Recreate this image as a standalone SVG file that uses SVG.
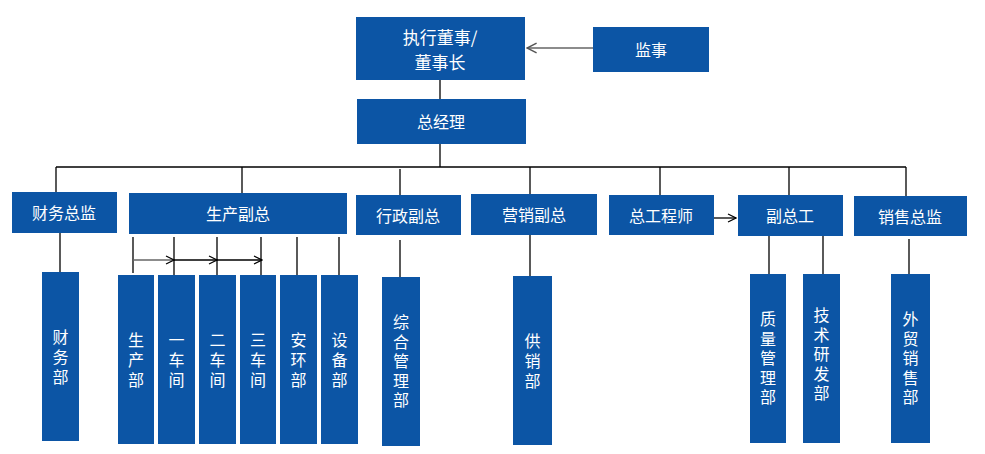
<svg xmlns="http://www.w3.org/2000/svg" width="985" height="454" viewBox="0 0 985 454">
<style>
.b{fill:#0c55a5}
.t{fill:#fff;font-family:"Noto Sans CJK SC","Microsoft YaHei",sans-serif;font-size:16px;text-anchor:middle;dominant-baseline:central}
.v{fill:#fff;font-family:"Noto Sans CJK SC","Microsoft YaHei",sans-serif;font-size:16px;text-anchor:middle;writing-mode:vertical-rl;letter-spacing:4px}
.v5{letter-spacing:3.5px}
.l{stroke:#000;stroke-width:1.3;fill:none}
.g{stroke:#666;stroke-width:1.5;fill:none}
</style>
<defs>
<marker id="ah" viewBox="0 0 10 10" refX="9" refY="5" markerWidth="10" markerHeight="10" markerUnits="userSpaceOnUse" orient="auto">
<path d="M1,1 L9,5 L1,9" fill="none" stroke="#000" stroke-width="1.2"/>
</marker>
<marker id="ahg" viewBox="0 0 10 10" refX="9" refY="5" markerWidth="12" markerHeight="12" markerUnits="userSpaceOnUse" orient="auto">
<path d="M1,1 L9,5 L1,9" fill="none" stroke="#555" stroke-width="1.2"/>
</marker>
</defs>
<rect width="985" height="454" fill="#fff"/>
<g id="connectors">
<line class="g" x1="593" y1="48" x2="527" y2="48" marker-end="url(#ahg)"/>
<line class="l" x1="440" y1="80" x2="440" y2="99"/>
<line class="l" x1="440" y1="144" x2="440" y2="167"/>
<line class="l" x1="56" y1="167" x2="906" y2="167"/>
<line class="l" x1="56" y1="167" x2="56" y2="192"/>
<line class="l" x1="242" y1="167" x2="242" y2="193"/>
<line class="l" x1="400" y1="169" x2="400" y2="195"/>
<line class="l" x1="530" y1="167" x2="530" y2="194"/>
<line class="l" x1="660" y1="167" x2="660" y2="195"/>
<line class="l" x1="789" y1="167" x2="789" y2="195"/>
<line class="l" x1="906" y1="167" x2="906" y2="196"/>
<line class="l" x1="714" y1="218" x2="736" y2="218" marker-end="url(#ah)"/>
<line class="l" x1="60" y1="233" x2="60" y2="272"/>
<line class="l" x1="133" y1="237" x2="133" y2="273"/>
<line class="l" x1="174" y1="237" x2="174" y2="275"/>
<line class="l" x1="217" y1="237" x2="217" y2="275"/>
<line class="l" x1="261" y1="237" x2="261" y2="275"/>
<line class="l" x1="297" y1="237" x2="297" y2="275"/>
<line class="l" x1="339" y1="237" x2="339" y2="275"/>
<line class="g" x1="133" y1="260" x2="174" y2="260" marker-end="url(#ah)"/>
<line class="l" x1="174" y1="260" x2="217" y2="260" marker-end="url(#ah)"/>
<line class="l" x1="217" y1="260" x2="262" y2="260" marker-end="url(#ah)"/>
<line class="l" x1="400" y1="240" x2="400" y2="277"/>
<line class="l" x1="530" y1="235" x2="530" y2="276"/>
<line class="l" x1="769" y1="236" x2="769" y2="274"/>
<line class="l" x1="823" y1="236" x2="823" y2="274"/>
<line class="l" x1="909" y1="239" x2="909" y2="274"/>
</g>
<g id="n-chairman"><rect class="b" x="356" y="17" width="169" height="63"/><text class="t" style="font-size:17px"><tspan x="440" y="36">执行董事/</tspan><tspan x="440" y="61">董事长</tspan></text></g>
<g id="n-supervisor"><rect class="b" x="593" y="27" width="116" height="45"/><text class="t" x="651" y="49">监事</text></g>
<g id="n-gm"><rect class="b" x="357" y="99" width="169" height="45"/><text class="t" x="441" y="121">总经理</text></g>
<g id="n-cfo"><rect class="b" x="12" y="192" width="105" height="41"/><text class="t" x="64" y="212">财务总监</text></g>
<g id="n-prod"><rect class="b" x="129" y="193" width="218" height="41"/><text class="t" x="238" y="213">生产副总</text></g>
<g id="n-admin"><rect class="b" x="356" y="195" width="105" height="40"/><text class="t" x="408" y="215">行政副总</text></g>
<g id="n-mkt"><rect class="b" x="471" y="194" width="126" height="41"/><text class="t" x="534" y="214">营销副总</text></g>
<g id="n-ce"><rect class="b" x="609" y="195" width="105" height="40"/><text class="t" x="661" y="215">总工程师</text></g>
<g id="n-dce"><rect class="b" x="738" y="195" width="105" height="41"/><text class="t" x="790" y="215">副总工</text></g>
<g id="n-sales"><rect class="b" x="854" y="196" width="113" height="40"/><text class="t" x="910" y="216">销售总监</text></g>
<g id="n-fin"><rect class="b" x="42" y="272" width="37" height="169"/><text class="v" x="60.5" y="359">财务部</text></g>
<g id="n-prodd"><rect class="b" x="118" y="275" width="36" height="169"/><text class="v" x="136" y="362">生产部</text></g>
<g id="n-w1"><rect class="b" x="158" y="275" width="37" height="169"/><text class="v" x="176.5" y="362">一车间</text></g>
<g id="n-w2"><rect class="b" x="199" y="275" width="37" height="169"/><text class="v" x="217.5" y="362">二车间</text></g>
<g id="n-w3"><rect class="b" x="240" y="275" width="36" height="169"/><text class="v" x="258" y="362">三车间</text></g>
<g id="n-safe"><rect class="b" x="280" y="275" width="37" height="169"/><text class="v" x="298.5" y="362">安环部</text></g>
<g id="n-equip"><rect class="b" x="321" y="275" width="37" height="169"/><text class="v" x="339.5" y="362">设备部</text></g>
<g id="n-gad"><rect class="b" x="382" y="277" width="38" height="169"/><text class="v v5" x="401" y="363">综合管理部</text></g>
<g id="n-supply"><rect class="b" x="513" y="276" width="39" height="169"/><text class="v" x="532.5" y="363">供销部</text></g>
<g id="n-qm"><rect class="b" x="750" y="274" width="36" height="169"/><text class="v v5" x="768" y="360">质量管理部</text></g>
<g id="n-rd"><rect class="b" x="803" y="274" width="37" height="169"/><text class="v v5" x="821.5" y="356">技术研发部</text></g>
<g id="n-ft"><rect class="b" x="891" y="274" width="39" height="169"/><text class="v v5" x="910.5" y="360">外贸销售部</text></g>
</svg>
